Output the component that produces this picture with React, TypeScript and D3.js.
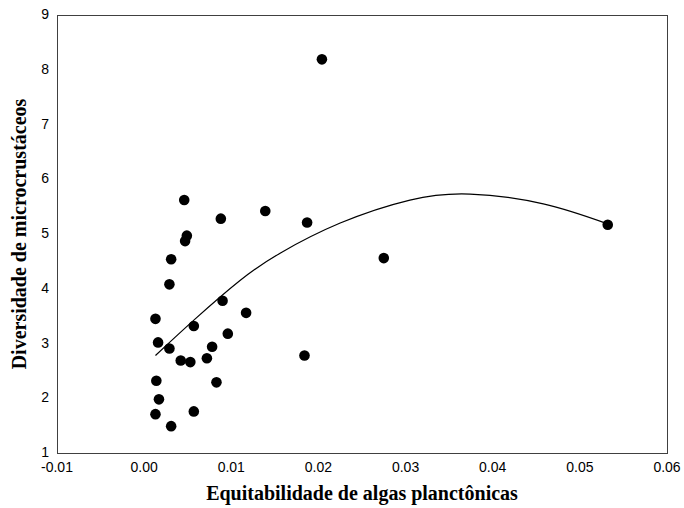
import React, { useEffect, useRef } from "react";
import * as d3 from "d3";

// scatter: equitabilidade (x) vs diversidade (y)
const equitabilidade = [
  0.0204, 0.0139, 0.0187, 0.0275, 0.0184, 0.0532,
  0.0046, 0.0088, 0.0049, 0.0047, 0.0031, 0.0029,
  0.0090, 0.0117, 0.0013, 0.0057, 0.0096, 0.0016,
  0.0029, 0.0078, 0.0042, 0.0053, 0.0072, 0.0014,
  0.0083, 0.0017, 0.0013, 0.0057, 0.0031,
];
const diversidade = [
  8.19, 5.42, 5.21, 4.56, 2.78, 5.17,
  5.62, 5.28, 4.97, 4.87, 4.54, 4.08,
  3.78, 3.56, 3.45, 3.32, 3.18, 3.02,
  2.91, 2.94, 2.69, 2.66, 2.73, 2.32,
  2.29, 1.98, 1.71, 1.76, 1.49,
];

// trend line
const trendX = [0.0013, 0.0058, 0.011, 0.0156, 0.0225, 0.0305, 0.0374, 0.0458, 0.0531];
const trendY = [2.78, 3.44, 4.15, 4.65, 5.20, 5.62, 5.73, 5.55, 5.19];

const xTicks = [-0.01, 0, 0.01, 0.02, 0.03, 0.04, 0.05, 0.06];
const yTicks = [1, 2, 3, 4, 5, 6, 7, 8, 9];

export default function App() {
  const svgRef = useRef<SVGSVGElement>(null);

  useEffect(() => {
    document.body.style.margin = "0";
    const width = 684;
    const height = 508;
    const margin = { top: 15, right: 17, bottom: 55, left: 57 };

    const svg = d3.select(svgRef.current);
    svg.selectAll("*").remove();

    const x = d3.scaleLinear()
      .domain([-0.01, 0.06])
      .range([margin.left, width - margin.right]);
    const y = d3.scaleLinear()
      .domain([1, 9])
      .range([height - margin.bottom, margin.top]);

    // frame
    svg.append("rect")
      .attr("x", x(-0.01) + 0.5)
      .attr("y", y(9) + 0.5)
      .attr("width", x(0.06) - x(-0.01))
      .attr("height", y(1) - y(9))
      .attr("fill", "none")
      .attr("stroke", "#404040")
      .attr("stroke-width", 1);

    svg.append("g")
      .selectAll("text")
      .data(yTicks)
      .enter().append("text")
      .attr("x", margin.left - 8)
      .attr("y", d => y(d))
      .attr("dy", "0.3em")
      .attr("text-anchor", "end")
      .attr("font-family", "Liberation Sans, Arial, sans-serif")
      .attr("font-size", 14)
      .text(d => d);

    svg.append("g")
      .selectAll("text")
      .data(xTicks)
      .enter().append("text")
      .attr("x", d => x(d))
      .attr("y", y(1) + 19)
      .attr("text-anchor", "middle")
      .attr("font-family", "Liberation Sans, Arial, sans-serif")
      .attr("font-size", 14)
      .text(d => d3.format(".2f")(d).replace("\u2212", "-"));

    svg.append("text")
      .attr("x", (x(-0.01) + x(0.06)) / 2)
      .attr("y", 500)
      .attr("text-anchor", "middle")
      .attr("font-family", "Liberation Serif, Times New Roman, serif")
      .attr("font-weight", "bold")
      .attr("font-size", 20)
      .text("Equitabilidade de algas planctônicas");

    svg.append("text")
      .attr("transform", `translate(26, ${(y(1) + y(9)) / 2}) rotate(-90)`)
      .attr("text-anchor", "middle")
      .attr("font-family", "Liberation Serif, Times New Roman, serif")
      .attr("font-weight", "bold")
      .attr("font-size", 20)
      .text("Diversidade de microcrustáceos");

    const trend = trendX.map((d, i) => [d, trendY[i]] as [number, number]);
    svg.append("path")
      .datum(trend)
      .attr("fill", "none")
      .attr("stroke", "#000")
      .attr("stroke-width", 1.2)
      .attr("d", d3.line<[number, number]>()
        .curve(d3.curveNatural)
        .x(d => x(d[0]))
        .y(d => y(d[1])));

    svg.append("g")
      .selectAll("circle")
      .data(equitabilidade.map((d, i) => [d, diversidade[i]]))
      .enter().append("circle")
      .attr("cx", d => x(d[0]))
      .attr("cy", d => y(d[1]))
      .attr("r", 5.3)
      .attr("fill", "#000");
  }, []);

  return (
    <svg ref={svgRef} width={684} height={508}
      style={{ display: "block", background: "#fff" }}></svg>
  );
}
